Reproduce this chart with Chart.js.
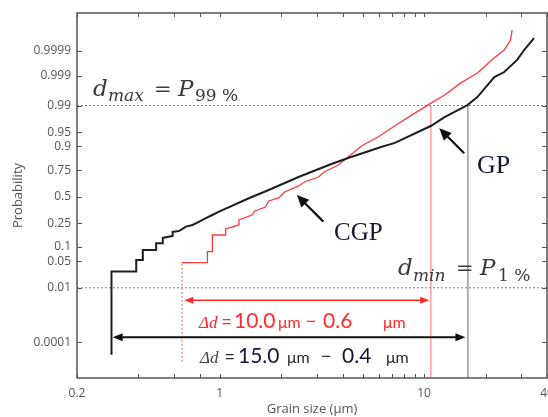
<!DOCTYPE html>
<html>
<head>
<meta charset="utf-8">
<script src="https://cdn.jsdelivr.net/npm/chart.js@4.4.1/dist/chart.umd.min.js"></script>
<style>
html,body{margin:0;padding:0;background:#fff;overflow:hidden;}
canvas{display:block;}
</style>
</head>
<body>
<canvas id="c" width="548" height="417"></canvas>
<script>
// ---------- data ----------
// GP (black) cumulative probability curve
const gpSize = [0.295,0.295,0.390,0.390,0.420,0.420,0.488,0.488,0.526,0.526,0.588,0.588,0.634,0.683,0.736,0.793,0.855,0.920,0.992,1.388,1.737,2.43,3.52,4.25,6.16,7.20,10.78,12.61,16.31,18.25,22.08,24.70,28.57,30.90,34.55];
const gpProb = [0.000027,0.0279,0.0279,0.0532,0.0532,0.0869,0.0869,0.117,0.117,0.146,0.158,0.184,0.191,0.222,0.235,0.262,0.291,0.320,0.351,0.484,0.568,0.692,0.798,0.838,0.898,0.915,0.9644,0.979,0.9903,0.9945,0.99887,0.99927,0.99976,0.99991,0.999974];
// CGP (red) cumulative probability curve
const cgpSize = [0.653,0.653,0.870,0.870,0.920,0.920,1.069,1.069,1.241,1.241,1.436,1.485,1.674,1.737,1.943,2.078,2.43,2.60,3.04,3.25,3.80,4.25,4.94,5.95,7.18,8.62,10.42,12.61,15.09,18.25,22.0,24.70,26.5,27.0];
const cgpProb = [0.0000124,0.0461,0.0461,0.0803,0.0803,0.164,0.164,0.205,0.235,0.276,0.320,0.358,0.396,0.456,0.487,0.548,0.608,0.646,0.692,0.736,0.791,0.844,0.902,0.936,0.9644,0.9808,0.9903,0.99526,0.99813,0.99920,0.99980,0.99991,0.999968,0.9999894];
// d_min / d_max markers
const dMinGP = 0.299, dMaxGP = 16.4;
const dMinCGP = 0.670, dMaxCGP = 10.8;
const pMax = 0.99, pMin = 0.01;
// axis ticks
const xTickValues = [0.2, 1, 10, 40];
const xTickLabels = ['0.2', '1', '10', '40'];
const xMinorTicks = [0.4, 0.6, 0.8, 2, 3, 4, 5, 6, 7, 8, 9, 20, 30];
const yTickProbs = [0.9999, 0.999, 0.99, 0.95, 0.9, 0.75, 0.5, 0.25, 0.1, 0.05, 0.01, 0.0001];
const yTickLabels = ['0.9999', '0.999', '0.99', '0.95', '0.9', '0.75', '0.5', '0.25', '0.1', '0.05', '0.01', '0.0001'];

// ---------- normal probability (probit) transform ----------
function probit(p){
  const a=[-3.969683028665376e+01,2.209460984245205e+02,-2.759285104469687e+02,1.383577518672690e+02,-3.066479806614716e+01,2.506628277459239e+00];
  const b=[-5.447609879822406e+01,1.615858368580409e+02,-1.556989798598866e+02,6.680131188771972e+01,-1.328068155288572e+01];
  const c=[-7.784894002430293e-03,-3.223964580411365e-01,-2.400758277161838e+00,-2.549732539343734e+00,4.374664141464968e+00,2.938163982698783e+00];
  const d=[7.784695709041462e-03,3.224671290700398e-01,2.445134137142996e+00,3.754408661907416e+00];
  const pl=0.02425, ph=1-pl; let q,r;
  if(p<pl){q=Math.sqrt(-2*Math.log(p));return (((((c[0]*q+c[1])*q+c[2])*q+c[3])*q+c[4])*q+c[5])/((((d[0]*q+d[1])*q+d[2])*q+d[3])*q+1);}
  if(p<=ph){q=p-0.5;r=q*q;return (((((a[0]*r+a[1])*r+a[2])*r+a[3])*r+a[4])*r+a[5])*q/(((((b[0]*r+b[1])*r+b[2])*r+b[3])*r+b[4])*r+1);}
  q=Math.sqrt(-2*Math.log(1-p));return -(((((c[0]*q+c[1])*q+c[2])*q+c[3])*q+c[4])*q+c[5])/((((d[0]*q+d[1])*q+d[2])*q+d[3])*q+1);
}
const Y_MIN = -4.63, Y_MAX = 4.69;
const pts = (xs, ps) => xs.map((x, i) => ({x: x, y: probit(ps[i])}));

// ---------- overlay: frame, inward ticks, annotations ----------
function arrowHead(ctx, x1, y1, x2, y2, len, w){
  const ang = Math.atan2(y2 - y1, x2 - x1);
  ctx.save(); ctx.translate(x2, y2); ctx.rotate(ang);
  ctx.beginPath(); ctx.moveTo(0, 0); ctx.lineTo(-len, -w/2); ctx.lineTo(-len, w/2); ctx.closePath(); ctx.fill();
  ctx.restore();
}
function segText(ctx, segs){
  segs.forEach(s => { ctx.font = s.f; ctx.fillStyle = s.c; ctx.fillText(s.t, s.x, s.y); });
}
const overlay = {
  id: 'overlay',
  afterDatasetsDraw(chart){
    const {ctx, chartArea: a, scales: {x, y}} = chart;
    ctx.save();
    // frame
    ctx.strokeStyle = '#555'; ctx.lineWidth = 1.5;
    ctx.strokeRect(a.left, a.top, a.right - a.left, a.bottom - a.top);
    // inward ticks
    ctx.lineWidth = 1;
    ctx.beginPath();
    xTickValues.concat(xMinorTicks).forEach(v => {
      const px = Math.round(x.getPixelForValue(v)) + 0.5;
      ctx.moveTo(px, a.bottom); ctx.lineTo(px, a.bottom - 4);
      ctx.moveTo(px, a.top); ctx.lineTo(px, a.top + 4);
    });
    yTickProbs.forEach(p => {
      const py = Math.round(y.getPixelForValue(probit(p))) + 0.5;
      ctx.moveTo(a.left, py); ctx.lineTo(a.left + 5, py);
      ctx.moveTo(a.right, py); ctx.lineTo(a.right - 5, py);
    });
    ctx.stroke();

    // delta-d arrows
    const yr = y.getPixelForValue(probit(0.00411));
    const yb = y.getPixelForValue(probit(0.000167));
    const xr1 = x.getPixelForValue(dMinCGP), xr2 = x.getPixelForValue(dMaxCGP - 0.2);
    const xb1 = x.getPixelForValue(dMinGP), xb2 = x.getPixelForValue(dMaxGP - 0.45);
    ctx.strokeStyle = '#ff2a2a'; ctx.fillStyle = '#ff2a2a'; ctx.lineWidth = 1.6;
    ctx.beginPath(); ctx.moveTo(xr1 + 4, yr); ctx.lineTo(xr2 - 4, yr); ctx.stroke();
    arrowHead(ctx, xr2, yr, xr1, yr, 9, 7); arrowHead(ctx, xr1, yr, xr2, yr, 9, 7);
    ctx.strokeStyle = '#111'; ctx.fillStyle = '#111'; ctx.lineWidth = 2;
    ctx.beginPath(); ctx.moveTo(xb1 + 4, yb); ctx.lineTo(xb2 - 4, yb); ctx.stroke();
    arrowHead(ctx, xb2, yb, xb1, yb, 10, 8); arrowHead(ctx, xb1, yb, xb2, yb, 10, 8);

    // GP / CGP pointer arrows
    const pointer = (sx, sp, tx, tp) => {
      const x1 = x.getPixelForValue(sx), y1 = y.getPixelForValue(probit(sp));
      const x2 = x.getPixelForValue(tx), y2 = y.getPixelForValue(probit(tp));
      const ang = Math.atan2(y2 - y1, x2 - x1);
      ctx.strokeStyle = '#111'; ctx.fillStyle = '#111'; ctx.lineWidth = 2.2;
      ctx.beginPath(); ctx.moveTo(x1, y1); ctx.lineTo(x2 - 8 * Math.cos(ang), y2 - 8 * Math.sin(ang)); ctx.stroke();
      arrowHead(ctx, x1, y1, x2, y2, 12, 11);
    };
    pointer(15.73, 0.866, 11.88, 0.9595);
    pointer(3.216, 0.262, 2.385, 0.517);

    // texts
    ctx.textBaseline = 'alphabetic'; ctx.textAlign = 'left';
    const serifI = s => 'italic ' + s + 'px "DejaVu Serif"';
    const serif = s => s + 'px "DejaVu Serif"';
    const dcol = '#3a3a3a';
    segText(ctx, [
      {t: 'd', f: serifI(23), c: dcol, x: 93, y: 96},
      {t: 'max', f: serifI(17), c: dcol, x: 108, y: 101},
      {t: '=', f: serif(21), c: dcol, x: 154, y: 96},
      {t: 'P', f: serifI(23), c: dcol, x: 178, y: 96},
      {t: '99 %', f: serif(17), c: dcol, x: 195, y: 101},
      {t: 'd', f: serifI(23), c: dcol, x: 398, y: 275},
      {t: 'min', f: serifI(17), c: dcol, x: 413, y: 281},
      {t: '=', f: serif(21), c: dcol, x: 456, y: 275},
      {t: 'P', f: serifI(23), c: dcol, x: 480, y: 275},
      {t: '1 %', f: serif(17), c: dcol, x: 498, y: 281}
    ]);
    segText(ctx, [
      {t: 'GP', f: '26px "Liberation Serif"', c: '#141a30', x: 477, y: 173},
      {t: 'CGP', f: '25px "Liberation Serif"', c: '#141a30', x: 334, y: 240}
    ]);
    const red = '#ff2a2a';
    segText(ctx, [
      {t: 'Δd', f: 'italic 17px "Liberation Serif"', c: red, x: 199, y: 328},
      {t: '=', f: '16px "Liberation Sans"', c: red, x: 222, y: 327},
      {t: '10.0', f: '21px Lato', c: red, x: 234, y: 328},
      {t: 'μm', f: '16px Lato', c: red, x: 278, y: 328},
      {t: '−', f: '17px "Liberation Sans"', c: red, x: 306, y: 327},
      {t: '0.6', f: '21px Lato', c: red, x: 323, y: 328},
      {t: 'μm', f: '16px Lato', c: red, x: 383, y: 328}
    ]);
    const bk = '#2a2a2a', bn = '#14163a';
    segText(ctx, [
      {t: 'Δd', f: 'italic 17px "Liberation Serif"', c: '#444', x: 200, y: 363},
      {t: '=', f: '16px "Liberation Sans"', c: bk, x: 225, y: 362},
      {t: '15.0', f: '21px Lato', c: bn, x: 238, y: 363},
      {t: 'μm', f: '16px Lato', c: bk, x: 287, y: 363},
      {t: '−', f: '17px "Liberation Sans"', c: bk, x: 321, y: 362},
      {t: '0.4', f: '21px Lato', c: bn, x: 342, y: 363},
      {t: 'μm', f: '16px Lato', c: bk, x: 386, y: 363}
    ]);
    ctx.restore();
  }
};

const hLine = p => [{x: 0.2, y: probit(p)}, {x: 40, y: probit(p)}];
const vLine = s => [{x: s, y: probit(pMax)}, {x: s, y: Y_MIN}];

new Chart(document.getElementById('c'), {
  type: 'line',
  data: {
    datasets: [
      {label: 'GP', data: pts(gpSize, gpProb), borderColor: '#1e1e1e', borderWidth: 2, pointRadius: 0, tension: 0},
      {label: 'CGP', data: pts(cgpSize, cgpProb), borderColor: '#ff3a3a', borderWidth: 1.3, pointRadius: 0, tension: 0,
        segment: {borderDash: c => c.p0DataIndex === 0 ? [2, 2] : undefined, borderColor: c => c.p0DataIndex === 0 ? '#ff8080' : undefined}},
      {label: 'P99', data: hLine(pMax), borderColor: '#7a7a7a', borderWidth: 1, borderDash: [2, 2], pointRadius: 0},
      {label: 'P1', data: hLine(pMin), borderColor: '#7a7a7a', borderWidth: 1, borderDash: [2, 2], pointRadius: 0},
      {label: 'dmaxCGP', data: vLine(dMaxCGP), borderColor: '#ffa0a0', borderWidth: 1.5, pointRadius: 0},
      {label: 'dmaxGP', data: vLine(dMaxGP), borderColor: '#808080', borderWidth: 1.2, pointRadius: 0}
    ]
  },
  options: {
    responsive: false, animation: false, devicePixelRatio: 1,
    layout: {padding: {left: 0, top: 13, right: 1, bottom: 0}},
    plugins: {legend: {display: false}, tooltip: {enabled: false}},
    scales: {
      x: {
        type: 'logarithmic', min: 0.2, max: 40,
        afterBuildTicks: s => { s.ticks = xTickValues.map(v => ({value: v})); },
        afterFit: s => { s.height = 39; s.paddingLeft = 0; s.paddingRight = 0; },
        grid: {display: false, drawTicks: false},
        border: {display: false},
        ticks: {autoSkip: false, maxRotation: 0, padding: 8, color: '#555', font: {family: '"Open Sans"', size: 12},
          callback: (v) => { const i = xTickValues.indexOf(v); return i >= 0 ? xTickLabels[i] : ''; }},
        title: {display: true, text: 'Grain size (μm)', color: '#555', font: {family: '"Open Sans"', size: 13}, padding: {top: 0, bottom: 0}}
      },
      y: {
        type: 'linear', min: Y_MIN, max: Y_MAX,
        afterBuildTicks: s => { s.ticks = yTickProbs.map(p => ({value: probit(p)})); },
        afterFit: s => { s.width = 77; s.paddingTop = 0; s.paddingBottom = 0; },
        grid: {display: false, drawTicks: false},
        border: {display: false},
        ticks: {autoSkip: false, padding: 6, color: '#555', font: {family: '"Open Sans"', size: 12},
          callback: (v, i) => yTickLabels[i]},
        title: {display: true, text: 'Probability', color: '#555', font: {family: '"Open Sans"', size: 13}, padding: {top: 10, bottom: 0}}
      }
    }
  },
  plugins: [overlay]
});
</script>
</body>
</html>
